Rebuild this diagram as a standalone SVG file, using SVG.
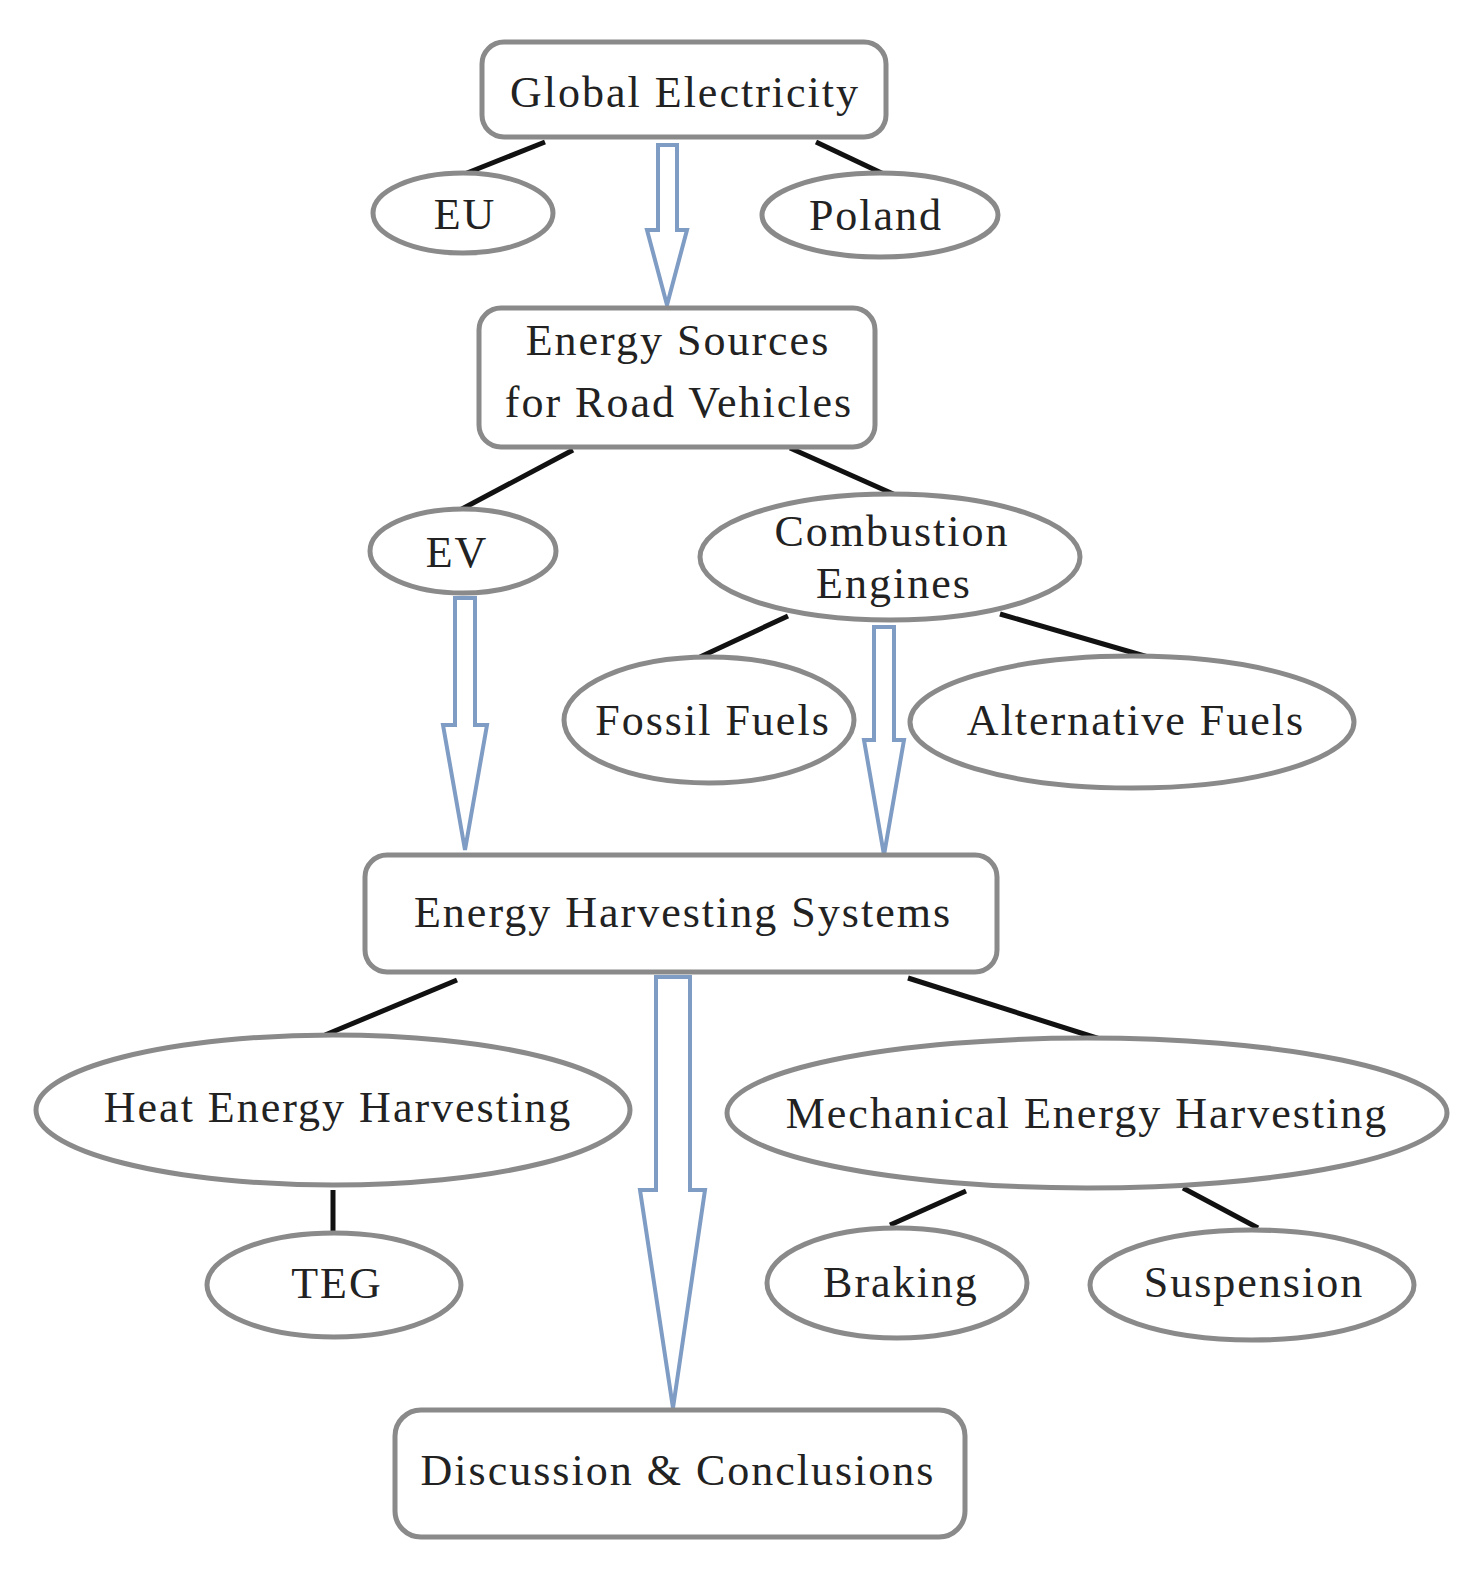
<svg xmlns="http://www.w3.org/2000/svg" width="1479" height="1571" viewBox="0 0 1479 1571">
<style>
.n{fill:#fff;stroke:#8a8a8a;stroke-width:5}
.t{font-family:"Liberation Serif",serif;font-size:44px;letter-spacing:2px;fill:#222;text-anchor:middle}
.l{stroke:#111;stroke-width:5}
.a{fill:#fff;stroke:#7f9cc4;stroke-width:4;stroke-linejoin:miter}
</style>
<rect width="1479" height="1571" fill="#fff"/>
<g id="connectors">
<line class="l" x1="545" y1="142" x2="462" y2="175"/>
<line class="l" x1="816" y1="142" x2="890" y2="177"/>
<line class="l" x1="573" y1="450" x2="460" y2="510"/>
<line class="l" x1="790" y1="448" x2="900" y2="497"/>
<line class="l" x1="788" y1="616" x2="700" y2="657"/>
<line class="l" x1="1000" y1="614" x2="1148" y2="657"/>
<line class="l" x1="457" y1="980" x2="325" y2="1035"/>
<line class="l" x1="908" y1="978" x2="1103" y2="1040"/>
<line class="l" x1="333" y1="1190" x2="333" y2="1232"/>
<line class="l" x1="966" y1="1191" x2="890" y2="1225"/>
<line class="l" x1="1183" y1="1188" x2="1258" y2="1228"/>
<polygon class="a" points="658,145 677,145 677,230 687,230 667,305 647,230 658,230"/>
<polygon class="a" points="455,598 475,598 475,725 487,725 465,850 443,725 455,725"/>
<polygon class="a" points="874,627 894,627 894,740 904,740 884,855 864,740 874,740"/>
<polygon class="a" points="656,977 690,977 690,1190 705,1190 673,1408 640,1190 656,1190"/>
</g>
<g id="global"><rect class="n" x="482" y="42" width="404" height="95" rx="22"/><text class="t" x="685" y="107">Global Electricity</text></g>
<g id="eu"><ellipse class="n" cx="463" cy="213" rx="90" ry="40"/><text class="t" x="465" y="229">EU</text></g>
<g id="poland"><ellipse class="n" cx="880" cy="215" rx="118" ry="42"/><text class="t" x="876" y="230">Poland</text></g>
<g id="sources"><rect class="n" x="479" y="308" width="396" height="139" rx="22"/><text class="t" x="678" y="355">Energy Sources</text><text class="t" x="679" y="417">for Road Vehicles</text></g>
<g id="ev"><ellipse class="n" cx="463" cy="551" rx="93" ry="42"/><text class="t" x="457" y="567">EV</text></g>
<g id="combustion"><ellipse class="n" cx="890" cy="557" rx="190" ry="63"/><text class="t" x="892" y="546">Combustion</text><text class="t" x="894" y="598">Engines</text></g>
<g id="fossil"><ellipse class="n" cx="709" cy="720" rx="145" ry="63"/><text class="t" x="713" y="735">Fossil Fuels</text></g>
<g id="alternative"><ellipse class="n" cx="1132" cy="722" rx="222" ry="66"/><text class="t" x="1136" y="735">Alternative Fuels</text></g>
<g id="harvesting"><rect class="n" x="365" y="855" width="632" height="117" rx="22"/><text class="t" x="683" y="927">Energy Harvesting Systems</text></g>
<g id="heat"><ellipse class="n" cx="333" cy="1110" rx="297" ry="75"/><text class="t" x="338" y="1122">Heat Energy Harvesting</text></g>
<g id="mechanical"><ellipse class="n" cx="1087" cy="1113" rx="360" ry="75"/><text class="t" x="1087" y="1128">Mechanical Energy Harvesting</text></g>
<g id="teg"><ellipse class="n" cx="334" cy="1285" rx="127" ry="52"/><text class="t" x="337" y="1298">TEG</text></g>
<g id="braking"><ellipse class="n" cx="897" cy="1283" rx="130" ry="55"/><text class="t" x="901" y="1297">Braking</text></g>
<g id="suspension"><ellipse class="n" cx="1252" cy="1285" rx="162" ry="55"/><text class="t" x="1254" y="1297">Suspension</text></g>
<g id="discussion"><rect class="n" x="395" y="1410" width="570" height="127" rx="26"/><text class="t" x="678" y="1485">Discussion &amp; Conclusions</text></g>
</svg>
